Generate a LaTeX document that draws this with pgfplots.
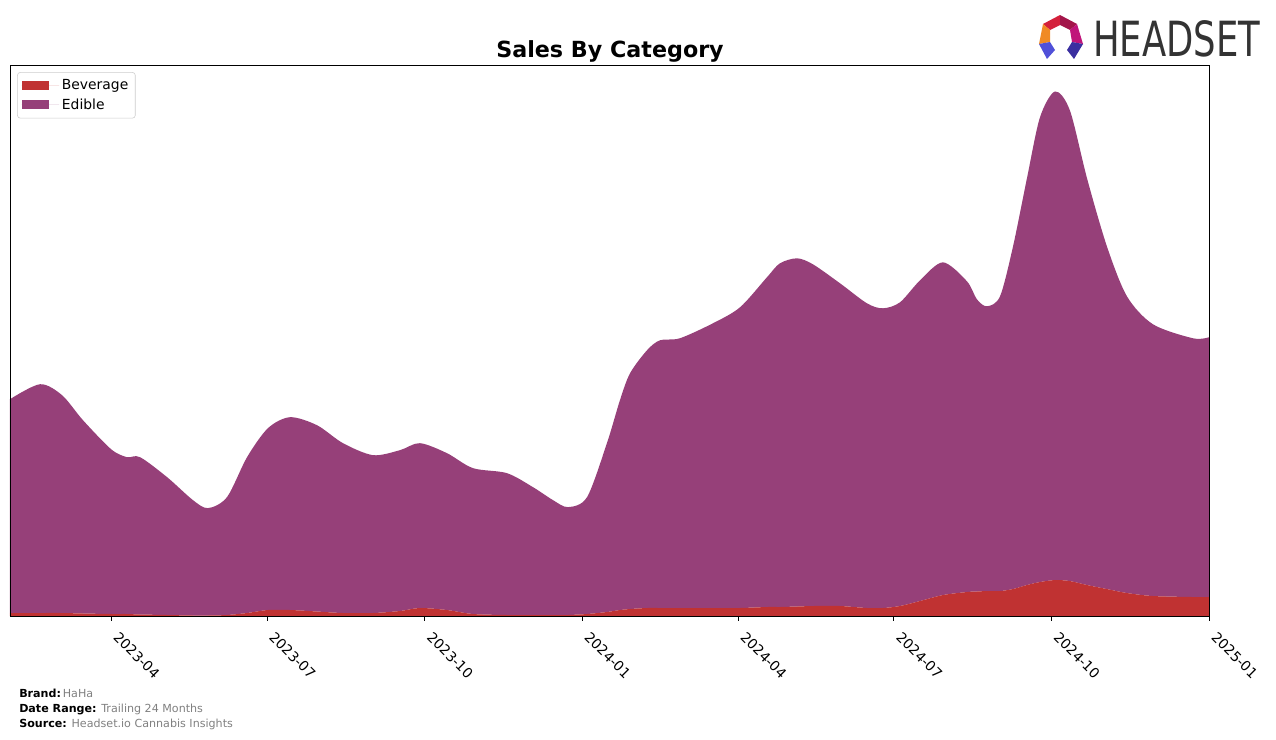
\documentclass[border=0pt]{standalone}
\usepackage{pgfplots}
\usepackage{pgfplotstable}
\pgfplotsset{compat=1.18}
\usepackage{fontspec}
\setmainfont{DejaVu Sans}
\definecolor{bev}{HTML}{C03232}
\definecolor{edi}{HTML}{964079}
\definecolor{ftgray}{HTML}{808080}
\definecolor{lg1}{HTML}{D4203B}
\definecolor{lg2}{HTML}{A3154A}
\definecolor{lg3}{HTML}{F08A24}
\definecolor{lg4}{HTML}{C0157A}
\definecolor{lg5}{HTML}{5050D8}
\definecolor{lg6}{HTML}{3A2FA0}

\pgfplotstableread{
d bev edi
0 3 214
17.5 3 229
30.4 3 218
42.6 2.5 193.5
59.0 2 165
68.3 2 157
75.9 1.5 157.5
91.7 1 138
106.8 0.5 115.5
115.6 0.5 107.5
126.7 1 118
138.4 3 156
150.6 6 182
163.5 6 193
179.2 4.5 186.5
194.4 3 170
211.9 3 158
227.7 5 161
239.3 8 165
255.1 6 157
270.3 2 146
290.1 1 142
305.3 1 128
317.0 1 115
325.8 1 108
336.9 2 117
348.5 4 169
356.1 6 210
362.0 7 236
371.9 8 258
379.5 8 268
391.1 8 270
410.4 8 285
426.2 8 301
441.9 9 330
449.5 9 344
459.5 9.5 348.5
468.8 10 342
484.6 10 323
500.3 8 305
509.7 8 300
519.6 10 304
531.3 15 321
544.7 21 333
558.7 24 311
564.5 24.5 292.5
570.4 25 285
578.0 25 295
585.6 27 343
593.7 31 407
601.3 34 465
610.1 36 489
618.8 35 471
628.8 31 407
640.4 27 343
652.1 23 297
667.3 20 272
690.6 19 259
700 19 260
}\data

\begin{document}
\begin{tikzpicture}
\useasboundingbox (0pt,0pt) rectangle (918.72pt,-532.8pt);
\begin{axis}[
  scale only axis,
  width=863.28pt, height=396.72pt,
  anchor=south west, at={(7.2pt,-443.52pt)},
  xmin=0, xmax=700, ymin=0, ymax=551.5,
  stack plots=y,
  axis on top,
  axis line style={line width=0.6pt},
  xtick={59,150,242,334,425,516,608,700},
  xticklabels={2023-04,2023-07,2023-10,2024-01,2024-04,2024-07,2024-10,2025-01},
  xtick pos=lower,
  ytick=\empty,
  tick align=outside,
  major tick length=3.5pt,
  xtick style={black, line width=0.6pt},
  xticklabel style={rotate=-45, anchor=north west, font=\fontsize{10}{12}\selectfont, inner sep=1pt, xshift=8.5pt, yshift=0.5pt},
  legend style={at={(rel axis cs:0.006,0.987)}, anchor=north west, draw=black!20, rounded corners=2pt, font=\fontsize{10}{12}\selectfont, row sep=1pt, inner sep=3pt},
  legend cell align=left,
  legend image code/.code={\fill[#1, sharp corners] (0pt,-3.2pt) rectangle (19.4pt,3.2pt); \path (0pt,0pt) -- (27pt,0pt);},
]
\addplot[fill=bev, draw=none, smooth] table[x=d, y=bev]{\data} \closedcycle;
\addlegendentry{Beverage}
\addplot[fill=edi, draw=none, smooth] table[x=d, y=edi]{\data} \closedcycle;
\addlegendentry{Edible}
\end{axis}

\begin{scope}[x=0.72pt, y=-0.72pt]
\node[font=\fontsize{16}{19}\selectfont\bfseries] at (610,51) {Sales By Category};
\node[anchor=west, font=\fontsize{8}{10}\selectfont, inner sep=0pt] at (19,693) {\textbf{Brand:}\,\textcolor{ftgray}{HaHa}};
\node[anchor=west, font=\fontsize{8}{10}\selectfont, inner sep=0pt] at (19,709) {\textbf{Date Range:} \textcolor{ftgray}{Trailing 24 Months}};
\node[anchor=west, font=\fontsize{8}{10}\selectfont, inner sep=0pt] at (19,724) {\textbf{Source:} \textcolor{ftgray}{Headset.io Cannabis Insights}};
% logo
\fill[lg1] (1043,24) -- (1060,15) -- (1060,25) -- (1050,30) -- cycle;
\fill[lg2] (1060,15) -- (1077,24) -- (1070,30) -- (1060,25) -- cycle;
\fill[lg3] (1043,24) -- (1050,30) -- (1050,42) -- (1039,44) -- cycle;
\fill[lg4] (1077,24) -- (1083,44) -- (1072,42) -- (1070,30) -- cycle;
\fill[lg5] (1039,44) -- (1050,42) -- (1055,50) -- (1047,59) -- cycle;
\fill[lg6] (1083,44) -- (1072,42) -- (1067,50) -- (1074,59) -- cycle;
\node[anchor=base west, inner sep=0pt, text=black!80] at (1093,56) {\resizebox{120.2pt}{25.9pt}{HEADSET}};
\end{scope}
\end{tikzpicture}
\end{document}
